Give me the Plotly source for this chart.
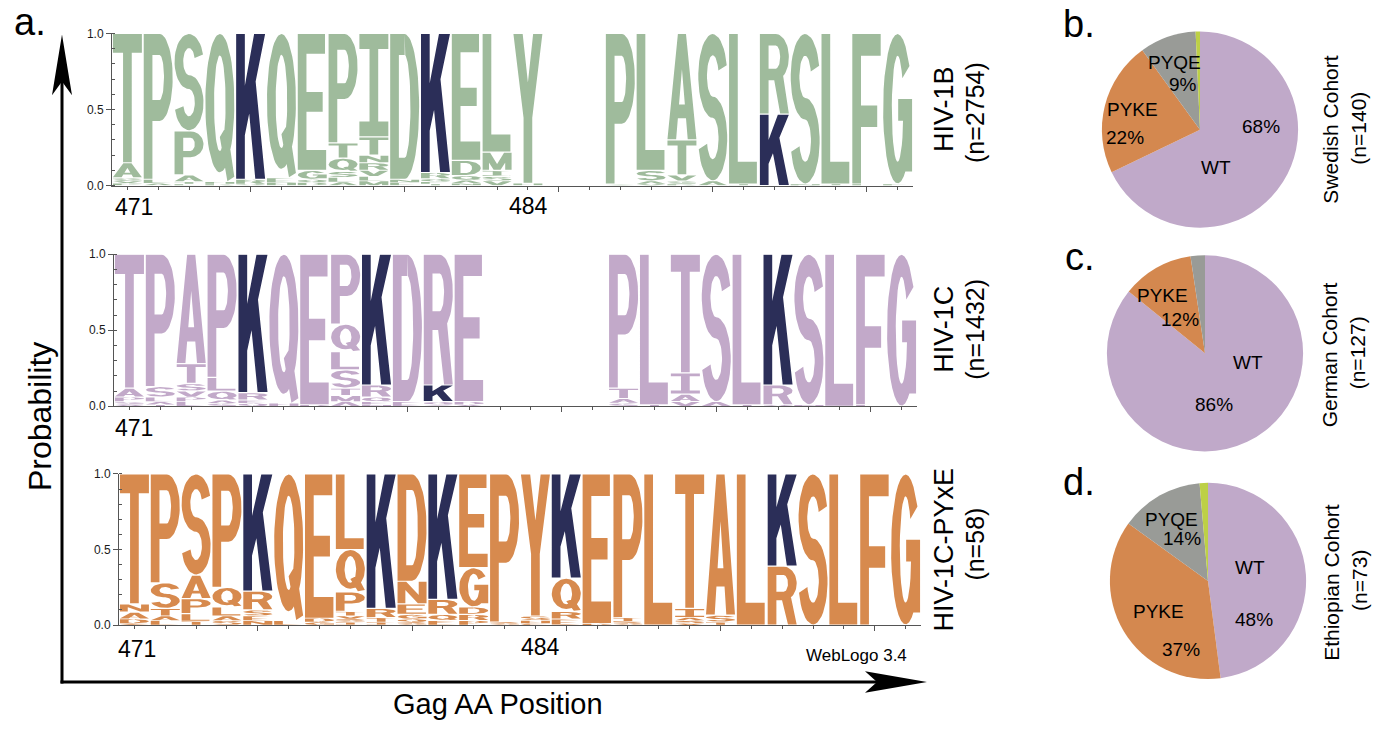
import math
import plotly.graph_objects as go

# ---------------- data ----------------
POSITIONS = list(range(471, 497))

HIV1B = [
    "T:.85 A:.10 S:.02 P:.015 V:.015",
    "P:.96 L:.025 A:.015",
    "S:.64 P:.29 A:.045 T:.015 L:.01",
    "Q:.975 H:.015 R:.01",
    "K:.96 R:.03 Q:.01",
    "Q:.95 E:.03 H:.02",
    "E:.90 G:.06 D:.02 Q:.02",
    "P:.72 T:.10 Q:.087 S:.04 L:.03 A:.023",
    "I:.68 T:.12 R:.05 N:.05 V:.04 M:.03 L:.03",
    "D:.96 E:.02 N:.02",
    "K:.915 R:.04 Q:.02 E:.015 T:.01",
    "E:.835 D:.10 Q:.03 A:.02 N:.015",
    "L:.78 M:.12 I:.04 V:.03 S:.03",
    "Y:.985 H:.015",
    "",
    "",
    "P:.99 S:.01",
    "L:.90 S:.07 A:.02 V:.01",
    "A:.70 T:.23 V:.04 S:.02 R:.01",
    "S:.97 A:.03",
    "L:.99 I:.01",
    "R:.53 K:.47",
    "S:.99 N:.01",
    "L:.99 I:.01",
    "F:.99 L:.01",
    "G:.99 E:.01",
]

HIV1C = [
    "T:.88 A:.06 P:.03 S:.02 V:.01",
    "P:.87 S:.07 L:.03 A:.02 T:.01",
    "A:.72 T:.13 S:.05 V:.04 L:.03 P:.03",
    "P:.81 L:.09 Q:.06 S:.02 A:.02",
    "K:.91 R:.05 Q:.02 E:.02",
    "Q:.98 H:.02",
    "E:.99 D:.01",
    "P:.46 Q:.18 S:.12 L:.12 T:.05 M:.04 A:.03",
    "K:.86 R:.08 Q:.03 E:.02 N:.01",
    "D:.97 E:.03",
    "R:.86 K:.11 Q:.02 S:.01",
    "E:.97 D:.02 A:.01",
    "",
    "",
    "",
    "",
    "P:.88 T:.07 A:.03 S:.02",
    "L:.99 I:.01",
    "T:.78 I:.14 A:.05 V:.03",
    "S:.97 A:.03",
    "L:.99 I:.01",
    "K:.86 R:.13 Q:.01",
    "S:.99 N:.01",
    "L:1.0",
    "F:.99 L:.01",
    "G:1.0",
]

HIV1C_PYXE = [
    "T:.86 N:.055 A:.045 D:.03 S:.01",
    "P:.72 S:.17 T:.05 L:.03 A:.03",
    "S:.67 A:.155 P:.10 L:.05 T:.025",
    "P:.75 Q:.13 L:.06 S:.03 A:.03",
    "K:.775 R:.125 S:.04 N:.03 E:.03",
    "Q:.97 L:.03",
    "E:.955 D:.025 G:.02",
    "L:.50 Q:.28 P:.13 T:.03 I:.02 S:.02 V:.02",
    "K:.89 R:.06 T:.03 I:.02",
    "D:.71 N:.15 E:.07 G:.03 S:.02 Q:.02",
    "K:.83 R:.10 Q:.04 E:.03",
    "E:.62 G:.26 D:.05 R:.04 P:.03",
    "P:.98 S:.02",
    "Y:.94 S:.03 H:.02 C:.01",
    "K:.69 Q:.22 R:.05 E:.04",
    "E:.99 D:.01",
    "P:.95 I:.03 S:.02",
    "L:1.0",
    "T:.89 I:.06 S:.02 A:.02 V:.01",
    "A:.935 S:.045 T:.02",
    "L:1.0",
    "K:.61 R:.39",
    "S:1.0",
    "L:1.0",
    "F:1.0",
    "G:1.0",
]

PIE_LABELS = ["WT", "PYKE", "PYQE", "Other"]
SWEDISH = [95, 31, 13, 1]
GERMAN = [109, 15, 3, 0]
ETHIOPIAN = [35, 27, 10, 1]

GREEN = "#9fbb9c"
PURPLE = "#c2a9c9"
ORANGE = "#d78a4e"
NAVY = "#2b2e58"
PIE_COLORS = ["#c0a9c9", "#d4884f", "#999b97", "#bdd046"]

FONT = "Liberation Sans"
W, H = 1374, 738


# ---------------- glyph outlines (unit box) ----------------
SW, SH = 0.30, 0.145


def R(x0, y0, x1, y1):
    return [(x0, y0), (x1, y0), (x1, y1), (x0, y1)]


def arc(cx, cy, rx, ry, tx, ty, a0, a1, n=30):
    po, pi = [], []
    for k in range(n + 1):
        a = math.radians(a0 + (a1 - a0) * k / n)
        po.append((cx + rx * math.cos(a), cy + ry * math.sin(a)))
        pi.append((cx + (rx - tx) * math.cos(a), cy + (ry - ty) * math.sin(a)))
    return po + pi[::-1]


_sry = (0.5 + SH / 2) / 2
GLYPHS = {
    "T": [R(0, 1 - SH, 1, 1), R(0.5 - SW / 2, 0, 0.5 + SW / 2, 1 - SH)],
    "I": [R(0, 1 - SH, 1, 1), R(0.5 - SW / 2, SH, 0.5 + SW / 2, 1 - SH), R(0, 0, 1, SH)],
    "L": [R(0, 0, SW, 1), R(SW, 0, 0.96, SH)],
    "E": [R(0, 0, SW, 1), R(SW, 1 - SH, 0.94, 1), R(SW, 0.5 - SH / 2, 0.86, 0.5 + SH / 2), R(SW, 0, 0.98, SH)],
    "F": [R(0, 0, SW, 1), R(SW, 1 - SH, 0.98, 1), R(SW, 0.45 - SH / 2, 0.86, 0.45 + SH / 2)],
    "H": [R(0, 0, SW, 1), R(1 - SW, 0, 1, 1), R(SW, 0.5 - SH / 2, 1 - SW, 0.5 + SH / 2)],
    "N": [R(0, 0, 0.27, 1), R(0.73, 0, 1, 1), [(0, 1), (0.3, 1), (1, 0), (0.7, 0)]],
    "M": [R(0, 0, 0.22, 1), R(0.78, 0, 1, 1), [(0, 1), (0.26, 1), (0.62, 0), (0.38, 0)],
          [(0.74, 1), (1, 1), (0.62, 0), (0.38, 0)]],
    "K": [R(0, 0, SW, 1), [(SW - 0.02, 0.28), (1.0, 1.0), (0.62, 1.0), (SW - 0.02, 0.62)],
          [(0.40, 0.56), (0.66, 0.0), (1.0, 0.0), (0.64, 0.74)]],
    "A": [[(0, 0), (0.3, 0), (0.6, 1), (0.36, 1)], [(0.7, 0), (1, 0), (0.64, 1), (0.4, 1)],
          R(0.3, 0.2, 0.7, 0.2 + SH * 0.9)],
    "V": [[(0, 1), (0.3, 1), (0.62, 0), (0.36, 0)], [(0.7, 1), (1, 1), (0.64, 0), (0.38, 0)]],
    "Y": [[(0, 1), (0.32, 1), (0.64, 0.42), (0.36, 0.42)], [(0.68, 1), (1, 1), (0.64, 0.42), (0.36, 0.42)],
          R(0.35, 0, 0.65, 0.45)],
    "P": [R(0, 0, SW, 1), R(SW, 1 - SH, 0.55, 1), R(SW, 0.40, 0.55, 0.40 + SH),
          arc(0.55, 0.70, 0.45, 0.30, SW, SH, -90, 90)],
    "R": [R(0, 0, SW, 1), R(SW, 1 - SH, 0.55, 1), R(SW, 0.42, 0.55, 0.42 + SH),
          arc(0.55, 0.71, 0.45, 0.29, SW, SH, -90, 90),
          [(0.48, 0.45), (0.70, 0.0), (1.0, 0.0), (0.80, 0.48)]],
    "D": [R(0, 0, SW, 1), R(SW, 1 - SH, 0.5, 1), R(SW, 0, 0.5, SH),
          arc(0.5, 0.5, 0.5, 0.5, SW, SH, -90, 90)],
    "Q": [arc(0.5, 0.53, 0.5, 0.47, SW, SH, 90, 270), arc(0.5, 0.53, 0.5, 0.47, SW, SH, -90, 90),
          [(0.50, 0.30), (0.74, 0.38), (1.0, 0.03), (0.76, 0.0)]],
    "C": [arc(0.5, 0.5, 0.5, 0.5, SW, SH, 35, 325)],
    "G": [arc(0.5, 0.5, 0.5, 0.5, SW, SH, 35, 360), R(0.52, 0.42, 1.0, 0.42 + SH), R(1 - SW, 0.08, 1.0, 0.5)],
    "S": [arc(0.5, 1 - _sry, 0.5, _sry, SW, SH, 15, 270), arc(0.5, _sry, 0.5, _sry, SW, SH, 195, 450)],
}


def ccw(poly):
    a = 0.0
    n = len(poly)
    for i in range(n):
        x0, y0 = poly[i]
        x1, y1 = poly[(i + 1) % n]
        a += x0 * y1 - x1 * y0
    return poly if a > 0 else poly[::-1]


def parse(col):
    out = []
    for tok in col.split():
        ch, p = tok.split(":")
        out.append((ch, float(p)))
    return out


def logo_traces(cols, color, xa, ya):
    acc = {color: ([], []), NAVY: ([], [])}
    for pos, col in zip(POSITIONS, cols):
        base = 0.0
        for ch, p in sorted(parse(col), key=lambda t: t[1]):
            c = NAVY if ch == "K" else color
            pad = min(0.004, p * 0.08)
            y0, y1 = base + pad, base + p - pad
            x0, x1 = pos - 0.47, pos + 0.47
            xs, ys = acc[c]
            for poly in GLYPHS[ch]:
                for u, v in ccw(poly):
                    xs.append(x0 + u * (x1 - x0))
                    ys.append(y0 + v * (y1 - y0))
                xs.append(None)
                ys.append(None)
            base += p
    traces = []
    for c, (xs, ys) in acc.items():
        traces.append(go.Scatter(x=xs, y=ys, mode="lines", fill="toself", fillcolor=c,
                                 line=dict(width=0, color=c), hoverinfo="skip",
                                 xaxis=xa, yaxis=ya, showlegend=False))
    return traces


def px(x):
    return x / W


def py(y):
    return 1 - y / H


fig = go.Figure()

LOGOS = [
    (HIV1B, GREEN, "x", "y", (112, 913), (27, 182)),
    (HIV1C, PURPLE, "x2", "y2", (114, 917), (252, 407)),
    (HIV1C_PYXE, ORANGE, "x3", "y3", (119, 921), (476, 630)),
]

axis_color = "#555555"
for i, (cols, color, xa, ya, (xl, xr), (yt, yb)) in enumerate(LOGOS):
    for t in logo_traces(cols, color, xa, ya):
        fig.add_trace(t)
    sfx = "" if i == 0 else str(i + 1)
    fig.update_layout({
        "xaxis" + sfx: dict(domain=[px(xl), px(xr)], range=[470.5, 496.5], anchor="y" + sfx,
                            showline=True, linecolor=axis_color, linewidth=1,
                            tickmode="linear", tick0=475, dtick=5, ticks="outside", ticklen=5,
                            tickcolor=axis_color, showticklabels=False, showgrid=False, zeroline=False,
                            minor=dict(tickmode="linear", tick0=471, dtick=1, ticks="outside", ticklen=3,
                                       tickcolor=axis_color, showgrid=False)),
        "yaxis" + sfx: dict(domain=[py(yb), py(yt)], range=[0, 1], anchor="x" + sfx,
                            showline=True, linecolor=axis_color, linewidth=1,
                            tickmode="linear", tick0=0, dtick=0.5, tickformat=".1f",
                            ticks="outside", ticklen=5, tickcolor=axis_color,
                            tickfont=dict(family=FONT, size=12, color="#1a1a1a"),
                            showgrid=False, zeroline=False,
                            minor=dict(tickmode="linear", tick0=0, dtick=0.1, ticks="inside", ticklen=3,
                                       tickcolor=axis_color, showgrid=False)),
    })

# pies
PIES = [(SWEDISH, (1200, 125)), (GERMAN, (1205, 353)), (ETHIOPIAN, (1208, 585))]
D = 200
for vals, (cx, cy) in PIES:
    fig.add_trace(go.Pie(values=vals, labels=PIE_LABELS, sort=False, direction="clockwise", rotation=0,
                         marker=dict(colors=PIE_COLORS, line=dict(width=0)), textinfo="none",
                         hoverinfo="label+percent", showlegend=False,
                         domain=dict(x=[px(cx - D / 2), px(cx + D / 2)], y=[py(cy + D / 2), py(cy - D / 2)])))

annotations = []


def txt(s, x, y, size, angle=0, xanchor="center", color="black"):
    annotations.append(dict(text=s, x=px(x), y=py(y), xref="paper", yref="paper", showarrow=False,
                            xanchor=xanchor, yanchor="middle", textangle=angle,
                            font=dict(family=FONT, size=size, color=color)))


txt("a.", 12, 15, 38, xanchor="left")
txt("b.", 1097, 17, 38, xanchor="right")
txt("c.", 1097, 255, 38, xanchor="right")
txt("d.", 1097, 484, 38, xanchor="right")

txt("Probability", 40, 418, 32, angle=-90)
txt("Gag AA Position", 498, 710, 29)

txt("471", 134, 204, 23)
txt("484", 528, 203, 23)
txt("471", 134, 429, 23)
txt("471", 137, 654, 23)
txt("484", 540, 652, 23)
txt("WebLogo 3.4", 856, 661, 17)

txt("HIV-1B", 944, 104, 27, angle=-90)
txt("(n=2754)", 975, 108, 25, angle=-90)
txt("HIV-1C", 944, 329, 27, angle=-90)
txt("(n=1432)", 975, 329, 25, angle=-90)
txt("HIV-1C-PYxE", 944, 553, 27, angle=-90)
txt("(n=58)", 975, 548, 25, angle=-90)

PS = 19
txt("PYQE", 1174, 57, PS)
txt("9%", 1183, 79, PS)
txt("PYKE", 1132, 104, PS)
txt("22%", 1125, 133, PS)
txt("68%", 1261, 122, PS)
txt("WT", 1216, 164, PS)

txt("PYKE", 1162, 294, PS)
txt("12%", 1180, 319, PS)
txt("WT", 1248, 362, PS)
txt("86%", 1214, 405, PS)

txt("PYQE", 1171, 522, PS)
txt("14%", 1182, 542, PS)
txt("WT", 1250, 571, PS)
txt("48%", 1254, 624, PS)
txt("PYKE", 1158, 616, PS)
txt("37%", 1181, 655, PS)

txt("Swedish Cohort", 1331, 125, 21, angle=-90)
txt("(n=140)", 1359, 124, 21, angle=-90)
txt("German Cohort", 1329, 355, 21, angle=-90)
txt("(n=127)", 1357, 353, 21, angle=-90)
txt("Ethiopian Cohort", 1332, 587, 21, angle=-90)
txt("(n=73)", 1360, 585, 21, angle=-90)

# big axis arrows
shapes = [
    dict(type="line", xref="paper", yref="paper", x0=px(62), y0=py(689.5), x1=px(62), y1=py(70),
         line=dict(color="black", width=3)),
    dict(type="line", xref="paper", yref="paper", x0=px(60.5), y0=py(688), x1=px(880), y1=py(688),
         line=dict(color="black", width=3)),
]


def pth(pts):
    return "M " + " L ".join(f"{px(a):.5f},{py(b):.5f}" for a, b in pts) + " Z"


shapes.append(dict(type="path", xref="paper", yref="paper",
                   path=pth([(62, 28), (72, 90), (62, 76), (52, 90)]),
                   fillcolor="black", line=dict(width=0)))
shapes.append(dict(type="path", xref="paper", yref="paper",
                   path=pth([(927, 688), (865, 699), (877, 688), (865, 677)]),
                   fillcolor="black", line=dict(width=0)))

fig.update_layout(width=W, height=H, margin=dict(l=0, r=0, t=0, b=0),
                  paper_bgcolor="white", plot_bgcolor="white", showlegend=False,
                  annotations=annotations, shapes=shapes)

fig.write_html("out.html", config={"displayModeBar": False},
               post_script="document.body.style.margin='0px';document.body.style.overflow='hidden';")
